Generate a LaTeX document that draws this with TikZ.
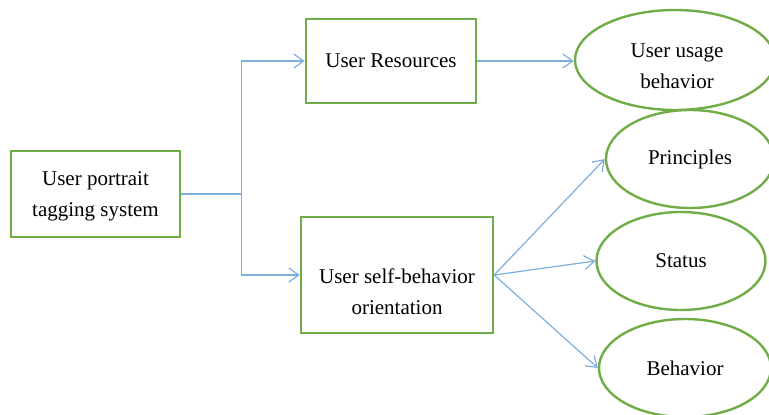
\documentclass[tikz,border=0pt]{standalone}
\usepackage{fontspec}
\setmainfont{Liberation Serif}
\usetikzlibrary{shapes.geometric,arrows.meta}
\definecolor{boxgreen}{HTML}{70AD47}
\definecolor{lineblue}{HTML}{7EAEDE}
\tikzset{
  txt/.style={align=center,inner sep=0pt,font=\fontsize{21}{31}\selectfont},
  rbox/.style={txt,draw=boxgreen,line width=2.4pt,fill=white},
  ell/.style={txt,ellipse,draw=boxgreen,line width=2.4pt,fill=white},
  conn/.style={draw=lineblue,line width=1.2pt},
  arr/.style={conn,-{Straight Barb[length=10pt,width=14pt,line width=1.2pt]}}
}
\begin{document}
\begin{tikzpicture}[x=1pt,y=-1pt]
\useasboundingbox (0,0) rectangle (769,415);
\node[rbox,minimum width=169pt,minimum height=86pt] (A) at (95.5,194) {};
\node[txt] (At) at (95.5,196) {User portrait\\tagging system};
\node[rbox,minimum width=170pt,minimum height=84pt] (B) at (391,61) {User Resources};
\node[rbox,minimum width=192pt,minimum height=116pt] (D) at (397,275) {};
\node[txt] (Dt) at (397,292) {User self-behavior\\orientation};
\node[ell,minimum width=200pt,minimum height=100pt] (C) at (675,60) {};
\node[txt] (Ct) at (677,66) {User usage\\behavior};
\node[ell,minimum width=168pt,minimum height=98pt] (E) at (690,159) {Principles};
\node[ell,minimum width=169pt,minimum height=98pt] (F) at (681,261) {Status};
\node[ell,minimum width=172pt,minimum height=98pt] (G) at (685,368) {Behavior};
\draw[conn] (A.east) -- ++(60,0) coordinate (fork);
\draw[arr] (fork) |- (B.west);
\draw[arr] (fork) |- (D.west);
\draw[arr] (B.east) -- (B.east -| C.west);
\draw[arr] (D.east) -- (E.west);
\draw[arr] (D.east) -- (F.west);
\draw[arr] (D.east) -- (G.west);
\end{tikzpicture}
\end{document}
